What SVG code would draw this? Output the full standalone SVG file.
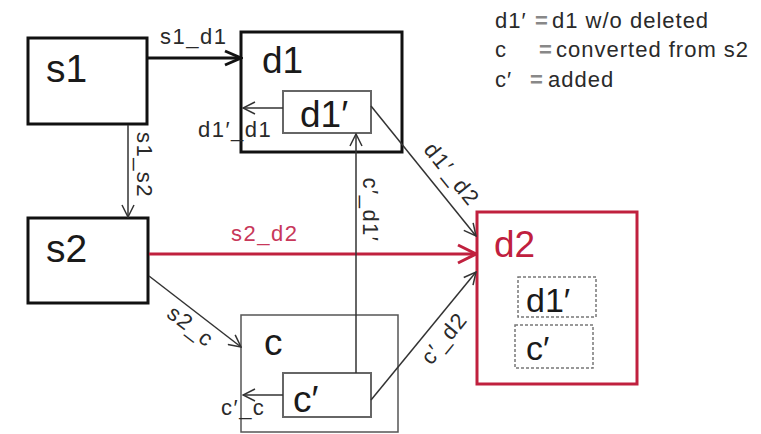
<svg xmlns="http://www.w3.org/2000/svg" width="761" height="434" viewBox="0 0 761 434">
<style>
  text { font-family: "Liberation Sans", Arial, sans-serif; }
  .big { font-size: 37px; fill: #1a1a1a; }
  .lbl { font-size: 22px; fill: #2a2a2a; letter-spacing: 1.5px; }
  .leg { font-size: 22px; fill: #2a2a2a; letter-spacing: 1px; }
  .eq { font-size: 22px; fill: #888; font-weight: bold; }
  .thick { fill: #fff; stroke: #111; stroke-width: 3; }
  .thinbox { fill: #fff; stroke: #555; stroke-width: 1.5; }
  .inner { fill: #fff; stroke: #666; stroke-width: 2; }
  .dash { fill: #fff; stroke: #777; stroke-width: 1.5; stroke-dasharray: 3 2; }
  .red { fill: #fff; stroke: #c0203e; stroke-width: 3; }
  .edge { fill: none; stroke: #333; stroke-width: 1.5; }
  .edgeThick { fill: none; stroke: #111; stroke-width: 3; }
  .edgeRed { fill: none; stroke: #c0203e; stroke-width: 3; }
</style>
<defs>
  <marker id="ah" viewBox="0 0 14 14" refX="13" refY="7" markerWidth="14" markerHeight="14" markerUnits="userSpaceOnUse" orient="auto">
    <path d="M1,1 L13,7 L1,13" fill="none" stroke="#333" stroke-width="1.5"/>
  </marker>
  <marker id="ahThick" viewBox="0 0 20 18" refX="18" refY="9" markerWidth="20" markerHeight="18" markerUnits="userSpaceOnUse" orient="auto">
    <path d="M2,2 L18,9 L2,16" fill="none" stroke="#111" stroke-width="3"/>
  </marker>
  <marker id="ahRed" viewBox="0 0 22 22" refX="20" refY="11" markerWidth="22" markerHeight="22" markerUnits="userSpaceOnUse" orient="auto">
    <path d="M2,2 L20,11 L2,20" fill="none" stroke="#c0203e" stroke-width="3"/>
  </marker>
</defs>
<rect width="761" height="434" fill="#fff"/>

<g id="legend">
  <text class="leg" x="495" y="28">d1′</text><text class="eq" x="535" y="28">=</text><text class="leg" x="552" y="28">d1 w/o deleted</text>
  <text class="leg" x="495" y="57">c</text><text class="eq" x="539" y="57">=</text><text class="leg" x="556" y="57">converted from s2</text>
  <text class="leg" x="495" y="87">c′</text><text class="eq" x="530" y="87">=</text><text class="leg" x="548" y="87">added</text>
</g>

<g id="s1">
  <rect class="thick" x="28" y="38" width="119" height="86"/>
  <text class="big" x="46" y="82" style="font-size:39px">s1</text>
</g>
<g id="s2">
  <rect class="thick" x="28" y="218" width="120" height="85"/>
  <text class="big" x="46" y="262" style="font-size:39px">s2</text>
</g>
<g id="d1">
  <rect class="thick" x="241" y="32" width="161" height="120"/>
  <text class="big" x="262" y="73">d1</text>
</g>
<g id="d1p">
  <rect class="inner" x="283" y="91" width="88" height="42"/>
  <text class="big" x="300" y="127">d1′</text>
</g>
<g id="c">
  <rect class="thinbox" x="241" y="315" width="157" height="117"/>
  <text class="big" x="264" y="355">c</text>
</g>
<g id="cp">
  <rect class="inner" x="283" y="373" width="88" height="44"/>
  <text class="big" x="293" y="412">c′</text>
</g>
<g id="d2">
  <rect class="red" x="477" y="212" width="160" height="172"/>
  <text class="big" x="494" y="257" style="fill:#c0203e">d2</text>
  <rect class="dash" x="518" y="277" width="78" height="40"/>
  <text class="big" x="526" y="312" style="font-size:34px">d1′</text>
  <rect class="dash" x="515" y="325" width="78" height="43"/>
  <text class="big" x="526" y="360" style="font-size:34px">c′</text>
</g>

<g id="connectors">
  <line class="edgeThick" x1="148" y1="58" x2="241" y2="58" marker-end="url(#ahThick)"/>
  <text class="lbl" x="160" y="44">s1_d1</text>

  <line class="edge" x1="128" y1="125" x2="128" y2="217" marker-end="url(#ah)"/>
  <text class="lbl" text-anchor="middle" dy="0.35em" transform="translate(145,165) rotate(90)">s1_s2</text>

  <line class="edge" x1="283" y1="108" x2="243" y2="108" marker-end="url(#ah)"/>
  <text class="lbl" x="198" y="137">d1′_d1</text>

  <line class="edgeRed" x1="149" y1="254" x2="476" y2="254" marker-end="url(#ahRed)"/>
  <text class="lbl" x="231" y="241" style="fill:#c8385a">s2_d2</text>

  <line class="edge" x1="149" y1="276" x2="241" y2="347" marker-end="url(#ah)"/>
  <text class="lbl" text-anchor="middle" dy="0.35em" transform="translate(191,326) rotate(38)">s2_c</text>

  <line class="edge" x1="283" y1="395" x2="243" y2="395" marker-end="url(#ah)"/>
  <text class="lbl" x="221" y="415">c′_c</text>

  <line class="edge" x1="356" y1="373" x2="356" y2="134" marker-end="url(#ah)"/>
  <text class="lbl" text-anchor="middle" dy="0.35em" transform="translate(371,210) rotate(90)">c′_d1′</text>

  <line class="edge" x1="371" y1="106" x2="476" y2="236" marker-end="url(#ah)"/>
  <text class="lbl" text-anchor="middle" dy="0.35em" transform="translate(452,174) rotate(51)">d1′_d2</text>

  <line class="edge" x1="371" y1="400" x2="476" y2="272" marker-end="url(#ah)"/>
  <text class="lbl" text-anchor="middle" dy="0.35em" transform="translate(444,338) rotate(-51)">c′_d2</text>
</g>
</svg>
